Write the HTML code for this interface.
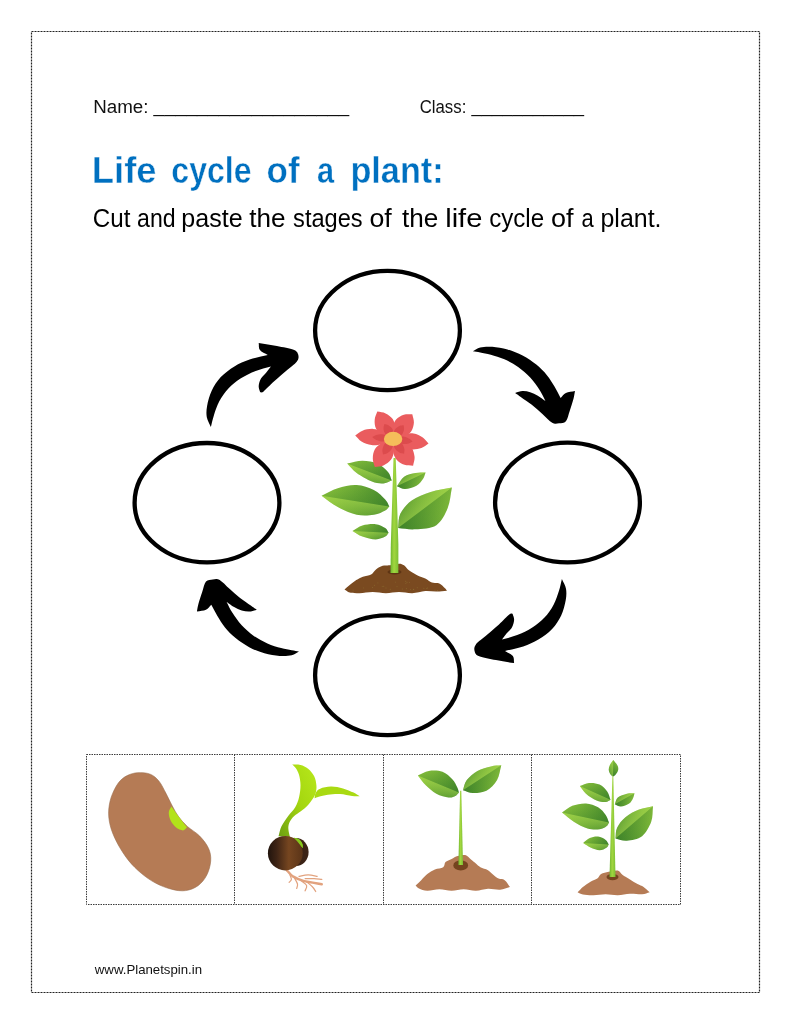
<!DOCTYPE html>
<html lang="en">
<head>
<meta charset="utf-8">
<title>Life cycle of a plant</title>
<style>
html,body{margin:0;padding:0;background:#fff;}
body{width:791px;height:1024px;overflow:hidden;position:relative;}
svg{position:absolute;left:0;top:0;display:block;will-change:transform;}
.cal{font-family:"Liberation Sans",sans-serif;fill:#111;}
.ttl,.sub{font-family:"Liberation Sans",sans-serif;}
.ttl{stroke:#fff;stroke-width:0.4px;paint-order:fill stroke;}
</style>
</head>
<body>
<svg width="791" height="1024" viewBox="0 0 791 1024">
<rect x="0" y="0" width="791" height="1024" fill="#fff"/>
<!-- page border -->
<rect x="31.5" y="31.5" width="728" height="961" fill="none" stroke="#222" stroke-width="1.2" stroke-dasharray="2 1"/>

<!-- header text -->
<text class="cal" x="93.2" y="112.7" font-size="18.7" textLength="55.3" lengthAdjust="spacingAndGlyphs">Name:</text>
<text class="cal" x="153.6" y="112.2" font-size="18.7" textLength="195.5" lengthAdjust="spacingAndGlyphs">__________________</text>
<text class="cal" x="419.7" y="112.7" font-size="18.7" textLength="46.6" lengthAdjust="spacingAndGlyphs">Class:</text>
<text class="cal" x="471.6" y="112.2" font-size="18.7" textLength="112.5" lengthAdjust="spacingAndGlyphs">___________</text>

<text class="ttl" y="183.1" font-size="36.3" font-weight="bold" fill="#0070c0"><tspan x="91.8" textLength="64.7" lengthAdjust="spacingAndGlyphs">Life</tspan> <tspan x="171.3" textLength="80.3" lengthAdjust="spacingAndGlyphs">cycle</tspan> <tspan x="266.6" textLength="33.0" lengthAdjust="spacingAndGlyphs">of</tspan> <tspan x="316.9" textLength="17.1" lengthAdjust="spacingAndGlyphs">a</tspan> <tspan x="350.4" textLength="93.3" lengthAdjust="spacingAndGlyphs">plant:</tspan></text>
<text class="sub" y="226.8" font-size="25" fill="#000"><tspan x="92.8" textLength="37.6" lengthAdjust="spacingAndGlyphs">Cut</tspan> <tspan x="137.1" textLength="38.5" lengthAdjust="spacingAndGlyphs">and</tspan> <tspan x="181.3" textLength="61.3" lengthAdjust="spacingAndGlyphs">paste</tspan> <tspan x="249.3" textLength="36.3" lengthAdjust="spacingAndGlyphs">the</tspan> <tspan x="293.1" textLength="69.6" lengthAdjust="spacingAndGlyphs">stages</tspan> <tspan x="369.4" textLength="22.3" lengthAdjust="spacingAndGlyphs">of</tspan> <tspan x="401.9" textLength="36.3" lengthAdjust="spacingAndGlyphs">the</tspan> <tspan x="445.2" textLength="37.2" lengthAdjust="spacingAndGlyphs">life</tspan> <tspan x="489.2" textLength="54.9" lengthAdjust="spacingAndGlyphs">cycle</tspan> <tspan x="551.1" textLength="22.5" lengthAdjust="spacingAndGlyphs">of</tspan> <tspan x="581.6" textLength="12.2" lengthAdjust="spacingAndGlyphs">a</tspan> <tspan x="600.5" textLength="61.0" lengthAdjust="spacingAndGlyphs">plant.</tspan></text>

<!-- ellipses -->
<g fill="none" stroke="#000" stroke-width="4.3">
<ellipse cx="387.5" cy="330.5" rx="72.4" ry="59.6"/>
<ellipse cx="207" cy="502.7" rx="72.4" ry="59.7"/>
<ellipse cx="567.5" cy="502.5" rx="72.4" ry="59.9"/>
<ellipse cx="387.5" cy="675.2" rx="72.4" ry="59.9"/>
</g>

<!-- ARROWS -->
<!--A0--><g fill="#000">
<path d="M210.9 427.1C209.6 423.8 207.5 420.8 206.8 417.2C206.2 413.7 206.3 410.3 207.1 405.9C207.9 401.4 209.4 395.5 211.7 390.7C214.0 385.9 217.0 381.1 220.8 377.0C224.6 373.0 229.6 369.3 234.4 366.4C239.2 363.5 244.1 361.5 249.6 359.6C255.2 357.7 261.8 356.5 267.8 355.0C265.2 353.4 261.4 352.0 259.9 350.0C258.4 348.0 259.1 345.3 258.7 342.9C264.8 343.9 271.1 344.8 276.9 345.9C282.7 347.1 290.1 348.3 293.6 349.7C297.1 351.2 297.6 352.6 298.2 354.6C298.7 356.5 299.0 358.8 296.9 361.6C294.9 364.3 289.9 367.6 286.0 371.0C282.2 374.3 277.6 378.2 273.9 381.6C270.1 385.0 265.8 389.7 263.6 391.4C261.3 393.2 261.3 391.9 260.2 392.2C259.7 390.2 258.6 388.4 258.7 386.1C258.8 383.9 259.7 380.8 261.0 378.5C262.3 376.3 264.7 374.5 266.3 372.5C267.9 370.5 269.3 368.4 270.9 366.4C265.8 367.9 260.7 368.9 255.7 371.0C250.6 373.0 245.1 375.6 240.5 378.5C236.0 381.5 231.9 384.6 228.4 388.4C224.8 392.2 221.7 396.9 219.3 401.3C216.9 405.7 215.4 410.7 214.0 415.0C212.6 419.3 211.9 423.0 210.9 427.1Z"/>
<path d="M472.9 351.2C475.3 350.0 476.9 348.2 480.2 347.4C483.4 346.7 487.8 346.5 492.3 346.8C496.9 347.2 502.4 348.0 507.5 349.4C512.5 350.9 517.8 353.0 522.6 355.5C527.5 358.0 532.3 361.3 536.3 364.6C540.3 367.9 543.9 371.5 546.9 375.2C550.0 378.9 552.2 382.8 554.5 386.6C556.8 390.4 558.6 394.2 560.6 398.0C562.3 396.3 563.5 394.1 565.9 393.0C568.3 391.8 572.0 391.7 575.0 391.1C574.5 393.7 574.4 395.4 573.5 398.7C572.6 402.0 570.9 407.1 569.7 410.9C568.4 414.6 567.7 419.1 565.9 421.2C564.1 423.2 561.3 423.0 559.1 423.3C556.8 423.5 555.0 424.3 552.2 422.7C549.5 421.1 545.8 416.9 542.4 413.9C539.0 410.9 535.3 407.6 531.8 404.8C528.2 402.0 523.9 399.2 521.1 397.2C518.4 395.2 517.1 394.4 515.1 393.0C517.6 392.3 520.1 391.2 522.6 391.1C525.2 391.0 527.7 391.6 530.2 392.3C532.8 393.1 535.3 394.2 537.8 395.7C540.3 397.1 542.9 399.2 545.4 401.0C543.4 397.2 541.9 393.5 539.3 389.6C536.8 385.7 533.8 381.3 530.2 377.5C526.7 373.7 522.4 369.9 518.1 366.9C513.8 363.8 509.0 361.3 504.4 359.3C499.9 357.3 494.8 355.9 490.8 354.7C486.7 353.6 483.2 353.0 480.2 352.4C477.2 351.9 475.3 351.6 472.9 351.2Z"/>
<path d="M561.9 579.0C563.3 582.2 565.4 585.3 566.0 588.8C566.6 592.4 566.5 595.8 565.7 600.2C564.9 604.6 563.4 610.6 561.2 615.4C558.9 620.2 555.8 625.0 552.1 629.0C548.3 633.1 543.2 636.7 538.4 639.6C533.6 642.5 528.8 644.6 523.2 646.5C517.7 648.4 511.1 649.5 505.0 651.0C507.7 652.7 511.4 654.0 512.9 656.0C514.4 658.0 513.7 660.8 514.1 663.1C508.1 662.1 501.7 661.3 495.9 660.1C490.1 659.0 482.8 657.8 479.2 656.3C475.7 654.9 475.2 653.4 474.7 651.5C474.1 649.5 473.9 647.2 475.9 644.5C477.9 641.8 483.0 638.4 486.8 635.1C490.7 631.7 495.2 627.9 499.0 624.5C502.7 621.0 507.0 616.4 509.3 614.6C511.6 612.8 511.5 614.1 512.6 613.8C513.1 615.9 514.3 617.6 514.1 619.9C514.0 622.2 513.1 625.2 511.9 627.5C510.6 629.8 508.2 631.5 506.5 633.6C504.9 635.6 503.5 637.6 502.0 639.6C507.1 638.1 512.1 637.1 517.2 635.1C522.2 633.1 527.8 630.4 532.3 627.5C536.9 624.6 540.9 621.4 544.5 617.6C548.0 613.8 551.2 609.2 553.6 604.7C556.0 600.3 557.5 595.4 558.9 591.1C560.3 586.8 560.9 583.0 561.9 579.0Z"/>
<path d="M299.0 651.5C296.6 652.7 295.0 654.5 291.7 655.3C288.5 656.0 284.1 656.2 279.6 655.9C275.0 655.6 269.5 654.7 264.4 653.3C259.4 651.9 254.0 649.8 249.2 647.2C244.4 644.7 239.6 641.4 235.6 638.1C231.5 634.8 228.0 631.2 225.0 627.5C221.9 623.8 219.7 619.9 217.4 616.1C215.1 612.3 213.3 608.5 211.3 604.8C209.5 606.4 208.4 608.6 206.0 609.8C203.6 610.9 199.9 611.0 196.9 611.6C197.4 609.1 197.5 607.3 198.4 604.0C199.3 600.7 200.9 595.6 202.2 591.9C203.5 588.1 204.2 583.6 206.0 581.5C207.8 579.5 210.6 579.7 212.8 579.4C215.1 579.2 216.9 578.5 219.7 580.0C222.4 581.6 226.1 585.8 229.5 588.8C232.9 591.8 236.6 595.1 240.1 597.9C243.7 600.7 248.0 603.5 250.8 605.5C253.5 607.5 254.8 608.3 256.8 609.8C254.3 610.4 251.8 611.5 249.2 611.6C246.7 611.7 244.2 611.1 241.7 610.4C239.1 609.6 236.6 608.5 234.1 607.0C231.5 605.6 229.0 603.5 226.5 601.7C228.5 605.5 230.0 609.2 232.6 613.1C235.1 617.0 238.1 621.4 241.7 625.2C245.2 629.0 249.5 632.8 253.8 635.9C258.1 638.9 262.9 641.4 267.4 643.4C272.0 645.5 277.1 646.9 281.1 648.0C285.1 649.1 288.7 649.7 291.7 650.3C294.7 650.8 296.6 651.1 299.0 651.5Z"/>
</g><!--A1-->
<!-- CENTER-FLOWER -->
<!--F0--><defs>
<linearGradient id="lgA" x1="0" y1="0" x2="1" y2="1"><stop offset="0" stop-color="#8cc63f"/><stop offset="1" stop-color="#3f8f2c"/></linearGradient>
<linearGradient id="lgB" x1="1" y1="0" x2="0" y2="1"><stop offset="0" stop-color="#9bcf3f"/><stop offset="1" stop-color="#3f8f2c"/></linearGradient>
<linearGradient id="lgC" x1="0" y1="0" x2="0.6" y2="1"><stop offset="0" stop-color="#8cc63f"/><stop offset="1" stop-color="#3f8f2c"/></linearGradient>
<linearGradient id="lgS" x1="0" y1="0" x2="1" y2="0"><stop offset="0" stop-color="#6db52f"/><stop offset="0.45" stop-color="#a2d63f"/><stop offset="1" stop-color="#7cc034"/></linearGradient>
<linearGradient id="fl1a" gradientUnits="userSpaceOnUse" x1="391.8" y1="480.6" x2="347.2" y2="463.5"><stop offset="0" stop-color="#43882b"/><stop offset="1" stop-color="#93ca3e"/></linearGradient><linearGradient id="fl1b" gradientUnits="userSpaceOnUse" x1="369.5" y1="472.1" x2="365.6" y2="482.2"><stop offset="0" stop-color="#a8d84e" stop-opacity="0.55"/><stop offset="1" stop-color="#a8d84e" stop-opacity="0"/></linearGradient><linearGradient id="fl1c" gradientUnits="userSpaceOnUse" x1="369.5" y1="472.1" x2="373.4" y2="461.9"><stop offset="0" stop-color="#2f7426" stop-opacity="0.25"/><stop offset="1" stop-color="#2f7426" stop-opacity="0"/></linearGradient><linearGradient id="fl2a" gradientUnits="userSpaceOnUse" x1="396.9" y1="486.3" x2="425.6" y2="472.4"><stop offset="0" stop-color="#43882b"/><stop offset="1" stop-color="#93ca3e"/></linearGradient><linearGradient id="fl2b" gradientUnits="userSpaceOnUse" x1="411.2" y1="479.4" x2="407.8" y2="472.2"><stop offset="0" stop-color="#a8d84e" stop-opacity="0.55"/><stop offset="1" stop-color="#a8d84e" stop-opacity="0"/></linearGradient><linearGradient id="fl2c" gradientUnits="userSpaceOnUse" x1="411.2" y1="479.4" x2="414.7" y2="486.6"><stop offset="0" stop-color="#2f7426" stop-opacity="0.25"/><stop offset="1" stop-color="#2f7426" stop-opacity="0"/></linearGradient><linearGradient id="fl3a" gradientUnits="userSpaceOnUse" x1="389.3" y1="506.6" x2="321.6" y2="495.8"><stop offset="0" stop-color="#43882b"/><stop offset="1" stop-color="#93ca3e"/></linearGradient><linearGradient id="fl3b" gradientUnits="userSpaceOnUse" x1="355.5" y1="501.2" x2="352.9" y2="517.2"><stop offset="0" stop-color="#a8d84e" stop-opacity="0.55"/><stop offset="1" stop-color="#a8d84e" stop-opacity="0"/></linearGradient><linearGradient id="fl3c" gradientUnits="userSpaceOnUse" x1="355.5" y1="501.2" x2="358.0" y2="485.2"><stop offset="0" stop-color="#2f7426" stop-opacity="0.25"/><stop offset="1" stop-color="#2f7426" stop-opacity="0"/></linearGradient><linearGradient id="fl4a" gradientUnits="userSpaceOnUse" x1="398.1" y1="528.0" x2="451.9" y2="487.6"><stop offset="0" stop-color="#43882b"/><stop offset="1" stop-color="#93ca3e"/></linearGradient><linearGradient id="fl4b" gradientUnits="userSpaceOnUse" x1="425.0" y1="507.8" x2="412.6" y2="491.2"><stop offset="0" stop-color="#a8d84e" stop-opacity="0.55"/><stop offset="1" stop-color="#a8d84e" stop-opacity="0"/></linearGradient><linearGradient id="fl4c" gradientUnits="userSpaceOnUse" x1="425.0" y1="507.8" x2="437.4" y2="524.4"><stop offset="0" stop-color="#2f7426" stop-opacity="0.25"/><stop offset="1" stop-color="#2f7426" stop-opacity="0"/></linearGradient><linearGradient id="fl5a" gradientUnits="userSpaceOnUse" x1="388.6" y1="532.7" x2="352.5" y2="530.9"><stop offset="0" stop-color="#43882b"/><stop offset="1" stop-color="#93ca3e"/></linearGradient><linearGradient id="fl5b" gradientUnits="userSpaceOnUse" x1="370.6" y1="531.8" x2="370.2" y2="539.6"><stop offset="0" stop-color="#a8d84e" stop-opacity="0.55"/><stop offset="1" stop-color="#a8d84e" stop-opacity="0"/></linearGradient><linearGradient id="fl5c" gradientUnits="userSpaceOnUse" x1="370.6" y1="531.8" x2="371.0" y2="524.0"><stop offset="0" stop-color="#2f7426" stop-opacity="0.25"/><stop offset="1" stop-color="#2f7426" stop-opacity="0"/></linearGradient></defs>
<g>
<path d="M344.5 589.5C346.2 588.0 347.7 586.6 349.7 585.1C351.7 583.5 354.1 581.5 356.3 580.1C358.5 578.8 360.4 577.8 362.9 576.8C365.3 575.9 368.9 575.6 371.1 574.4C373.3 573.1 374.1 570.9 376.0 569.4C377.9 568.0 380.3 566.5 382.6 565.8C384.9 565.1 387.2 565.7 390.0 565.3C392.7 565.0 396.7 563.7 399.0 563.7C401.4 563.7 402.3 564.2 404.0 565.3C405.6 566.4 406.7 568.6 408.9 570.3C411.1 571.9 414.4 573.8 417.1 575.2C419.8 576.6 422.9 577.3 425.3 578.5C427.8 579.7 429.6 581.8 431.9 582.6C434.2 583.4 437.1 582.5 439.3 583.4C441.5 584.4 443.8 587.1 445.0 588.3C446.3 589.6 446.4 590.0 447.0 590.8C443.6 591.1 440.4 591.6 436.8 591.6C433.2 591.7 429.4 590.9 425.3 591.1C421.2 591.4 416.6 593.1 412.2 593.3C407.8 593.4 403.4 592.1 399.0 592.1C394.6 592.1 390.3 593.3 385.9 593.3C381.5 593.3 377.1 592.1 372.7 592.1C368.3 592.1 363.4 593.2 359.6 593.3C355.7 593.3 352.2 593.1 349.7 592.5C347.2 591.8 346.2 590.5 344.5 589.5Z" fill="#7a4a20"/>
<ellipse cx="394.5" cy="572" rx="7" ry="2.6" fill="#5e3514"/>
<path d="M393.5 458 L395.7 458 L398.4 545 L398.4 573 L390.5 573 L390.8 545 Z" fill="url(#lgS)"/>
<g fill="#9a8a3c" opacity="0.7"><!--specks--><circle cx="372.5" cy="587.5" r="0.45"/><circle cx="383.8" cy="586.3" r="0.45"/><circle cx="405.8" cy="581.2" r="0.45"/><circle cx="353.1" cy="590.1" r="0.45"/><circle cx="374.3" cy="585.3" r="0.45"/><circle cx="437.6" cy="590.6" r="0.45"/><circle cx="423.9" cy="588.2" r="0.45"/><circle cx="407.0" cy="582.3" r="0.45"/><circle cx="406.6" cy="588.8" r="0.45"/><circle cx="397.0" cy="586.8" r="0.45"/><circle cx="409.7" cy="582.4" r="0.45"/><circle cx="417.2" cy="587.7" r="0.45"/><circle cx="377.9" cy="582.9" r="0.45"/><circle cx="426.4" cy="588.6" r="0.45"/><circle cx="413.8" cy="589.2" r="0.45"/><circle cx="413.4" cy="589.5" r="0.45"/><circle cx="386.0" cy="588.0" r="0.45"/><circle cx="390.2" cy="589.3" r="0.45"/><circle cx="427.6" cy="588.0" r="0.45"/><circle cx="363.7" cy="587.9" r="0.45"/><circle cx="435.0" cy="590.1" r="0.45"/><circle cx="405.9" cy="583.4" r="0.45"/><circle cx="395.6" cy="582.1" r="0.45"/><circle cx="382.2" cy="586.4" r="0.45"/><circle cx="402.2" cy="589.0" r="0.45"/><circle cx="410.7" cy="589.4" r="0.45"/></g>
<path d="M347.2 463.5C352.3 462.6 357.4 460.7 362.4 460.7C367.5 460.7 373.3 461.6 377.6 463.5C381.8 465.4 385.6 469.2 388.0 472.1C390.4 474.9 390.5 477.8 391.8 480.6C389.0 481.5 386.6 483.3 383.3 483.4C379.9 483.6 376.3 483.3 371.9 481.5C367.5 479.8 360.8 476.0 356.7 473.0C352.6 470.0 350.4 466.7 347.2 463.5Z" fill="url(#fl1a)"/><path d="M391.8 480.6C389.0 481.5 386.6 483.3 383.3 483.4C379.9 483.6 376.3 483.3 371.9 481.5C367.5 479.8 360.8 476.0 356.7 473.0C352.6 470.0 350.4 466.7 347.2 463.5Z" fill="url(#fl1b)"/><path d="M347.2 463.5C352.3 462.6 357.4 460.7 362.4 460.7C367.5 460.7 373.3 461.6 377.6 463.5C381.8 465.4 385.6 469.2 388.0 472.1C390.4 474.9 390.5 477.8 391.8 480.6Z" fill="url(#fl1c)"/>
<path d="M396.9 486.3C399.3 483.1 401.0 479.0 404.1 476.8C407.2 474.6 411.9 473.7 415.5 473.0C419.1 472.3 422.2 472.6 425.6 472.4C424.7 474.5 424.6 476.5 423.1 478.7C421.6 480.9 419.5 484.0 416.5 485.7C413.5 487.5 408.3 489.0 405.1 489.1C401.8 489.2 399.6 487.2 396.9 486.3Z" fill="url(#fl2a)"/><path d="M396.9 486.3C399.3 483.1 401.0 479.0 404.1 476.8C407.2 474.6 411.9 473.7 415.5 473.0C419.1 472.3 422.2 472.6 425.6 472.4Z" fill="url(#fl2b)"/><path d="M425.6 472.4C424.7 474.5 424.6 476.5 423.1 478.7C421.6 480.9 419.5 484.0 416.5 485.7C413.5 487.5 408.3 489.0 405.1 489.1C401.8 489.2 399.6 487.2 396.9 486.3Z" fill="url(#fl2c)"/>
<path d="M321.6 495.8C327.0 493.2 331.9 490.0 337.8 488.2C343.6 486.4 350.7 484.6 356.7 485.0C362.7 485.3 369.0 487.6 373.8 490.1C378.5 492.5 382.6 496.8 385.2 499.6C387.8 502.3 387.9 504.2 389.3 506.6C387.9 507.8 387.8 509.0 385.2 510.4C382.6 511.7 378.5 514.0 373.8 514.7C369.0 515.5 362.7 516.0 356.7 514.7C350.7 513.5 343.6 510.3 337.8 507.1C331.9 504.0 327.0 499.6 321.6 495.8Z" fill="url(#fl3a)"/><path d="M389.3 506.6C387.9 507.8 387.8 509.0 385.2 510.4C382.6 511.7 378.5 514.0 373.8 514.7C369.0 515.5 362.7 516.0 356.7 514.7C350.7 513.5 343.6 510.3 337.8 507.1C331.9 504.0 327.0 499.6 321.6 495.8Z" fill="url(#fl3b)"/><path d="M321.6 495.8C327.0 493.2 331.9 490.0 337.8 488.2C343.6 486.4 350.7 484.6 356.7 485.0C362.7 485.3 369.0 487.6 373.8 490.1C378.5 492.5 382.6 496.8 385.2 499.6C387.8 502.3 387.9 504.2 389.3 506.6Z" fill="url(#fl3c)"/>
<path d="M398.1 528.0C398.8 523.3 398.1 518.4 400.3 513.8C402.6 509.2 406.7 504.1 411.7 500.5C416.8 496.9 424.0 494.1 430.7 492.0C437.4 489.8 444.8 489.1 451.9 487.6C450.5 494.4 450.3 501.8 447.7 508.1C445.2 514.4 441.7 521.6 436.4 525.2C431.0 528.7 421.9 528.9 415.5 529.3C409.1 529.8 403.9 528.5 398.1 528.0Z" fill="url(#fl4a)"/><path d="M398.1 528.0C398.8 523.3 398.1 518.4 400.3 513.8C402.6 509.2 406.7 504.1 411.7 500.5C416.8 496.9 424.0 494.1 430.7 492.0C437.4 489.8 444.8 489.1 451.9 487.6Z" fill="url(#fl4b)"/><path d="M451.9 487.6C450.5 494.4 450.3 501.8 447.7 508.1C445.2 514.4 441.7 521.6 436.4 525.2C431.0 528.7 421.9 528.9 415.5 529.3C409.1 529.8 403.9 528.5 398.1 528.0Z" fill="url(#fl4c)"/>
<path d="M352.5 530.9C355.8 529.1 358.6 526.6 362.4 525.5C366.3 524.4 371.9 523.8 375.7 524.2C379.5 524.6 383.0 526.6 385.2 528.0C387.3 529.4 387.4 531.2 388.6 532.7C387.4 534.0 387.3 535.4 385.2 536.5C383.0 537.6 379.5 539.4 375.7 539.4C371.9 539.4 366.3 538.0 362.4 536.5C358.6 535.1 355.8 532.7 352.5 530.9Z" fill="url(#fl5a)"/><path d="M388.6 532.7C387.4 534.0 387.3 535.4 385.2 536.5C383.0 537.6 379.5 539.4 375.7 539.4C371.9 539.4 366.3 538.0 362.4 536.5C358.6 535.1 355.8 532.7 352.5 530.9Z" fill="url(#fl5b)"/><path d="M352.5 530.9C355.8 529.1 358.6 526.6 362.4 525.5C366.3 524.4 371.9 523.8 375.7 524.2C379.5 524.6 383.0 526.6 385.2 528.0C387.3 529.4 387.4 531.2 388.6 532.7Z" fill="url(#fl5c)"/>
<path d="M392.3 437.6C393.1 434.3 394.8 430.8 394.8 427.7C394.9 424.7 394.3 421.5 392.7 419.1C391.2 416.7 388.2 414.6 385.6 413.4C383.1 412.1 380.1 412.2 377.3 411.6C376.4 414.3 374.9 416.9 374.7 419.7C374.4 422.6 374.8 426.2 376.1 428.7C377.4 431.3 379.8 433.4 382.5 434.9C385.2 436.3 389.0 436.7 392.3 437.6Z" fill="#ea5c5e"/>
<path d="M394.1 437.7C397.4 437.3 401.2 437.4 404.1 436.4C407.0 435.3 409.6 433.5 411.3 431.2C412.9 428.9 413.7 425.3 413.9 422.5C414.0 419.7 412.8 416.9 412.3 414.2C409.5 414.4 406.6 413.9 403.8 414.7C401.1 415.6 397.9 417.3 396.1 419.4C394.2 421.6 393.2 424.6 392.9 427.6C392.5 430.7 393.7 434.3 394.1 437.7Z" fill="#ea5c5e"/>
<path d="M394.9 439.2C397.3 441.5 399.5 444.5 402.2 446.2C405.0 447.9 408.3 449.2 411.5 449.5C414.7 449.8 418.6 449.1 421.4 448.1C424.3 447.1 426.1 445.1 428.5 443.6C426.6 441.6 425.3 439.2 422.8 437.5C420.3 435.8 416.8 434.0 413.6 433.5C410.5 433.0 406.9 433.4 403.8 434.3C400.7 435.3 397.8 437.6 394.9 439.2Z" fill="#ea5c5e"/>
<path d="M394.1 440.3C393.7 443.7 392.6 447.5 393.0 450.7C393.4 453.9 394.5 457.1 396.4 459.4C398.3 461.8 401.6 463.7 404.4 464.7C407.2 465.8 410.2 465.4 413.1 465.7C413.6 462.9 414.8 460.1 414.6 457.1C414.3 454.2 413.5 450.4 411.8 447.9C410.1 445.4 407.3 443.5 404.4 442.2C401.4 440.9 397.5 440.9 394.1 440.3Z" fill="#ea5c5e"/>
<path d="M392.2 440.3C388.8 441.2 384.9 441.4 382.0 442.9C379.1 444.4 376.5 446.5 375.0 449.1C373.4 451.7 372.8 455.5 372.8 458.5C372.7 461.5 374.1 464.2 374.8 467.0C377.6 466.5 380.7 466.6 383.4 465.4C386.1 464.2 389.3 462.1 391.1 459.6C392.8 457.2 393.7 453.9 393.9 450.7C394.1 447.5 392.8 443.8 392.2 440.3Z" fill="#ea5c5e"/>
<path d="M391.2 438.8C388.5 436.5 386.1 433.6 383.0 432.0C380.0 430.3 376.4 429.1 373.0 428.9C369.6 428.7 365.5 429.6 362.5 430.7C359.5 431.8 357.6 433.8 355.2 435.4C357.3 437.4 358.8 439.7 361.5 441.4C364.2 443.0 368.1 444.6 371.5 445.0C374.9 445.5 378.6 445.0 381.9 443.9C385.2 442.9 388.1 440.5 391.2 438.8Z" fill="#ea5c5e"/>
<path d="M392.7 438.2C392.9 436.5 393.5 434.7 393.4 433.1C393.3 431.5 392.9 429.8 392.1 428.5C391.2 427.2 389.7 426.0 388.4 425.2C387.2 424.4 385.8 424.3 384.4 423.9C384.1 425.3 383.5 426.6 383.5 428.1C383.5 429.5 383.8 431.5 384.6 432.8C385.3 434.2 386.5 435.4 387.9 436.3C389.2 437.2 391.1 437.6 392.7 438.2Z" fill="#dc4b4d"/>
<path d="M393.6 438.3C395.3 437.9 397.1 437.8 398.6 437.1C400.0 436.4 401.4 435.4 402.3 434.1C403.2 432.8 403.8 431.0 404.0 429.5C404.2 428.0 403.8 426.7 403.7 425.3C402.3 425.5 400.9 425.4 399.5 426.0C398.1 426.6 396.5 427.6 395.5 428.8C394.5 430.0 393.8 431.6 393.5 433.2C393.2 434.7 393.6 436.6 393.6 438.3Z" fill="#dc4b4d"/>
<path d="M394.1 439.1C395.4 440.2 396.7 441.5 398.2 442.3C399.7 443.1 401.6 443.8 403.3 444.0C405.1 444.1 407.2 443.8 408.7 443.4C410.3 443.0 411.3 442.2 412.6 441.5C411.5 440.6 410.8 439.5 409.4 438.7C408.0 437.9 406.0 437.0 404.3 436.7C402.5 436.5 400.6 436.6 398.9 437.0C397.2 437.4 395.7 438.4 394.1 439.1Z" fill="#dc4b4d"/>
<path d="M393.6 439.7C393.6 441.4 393.3 443.3 393.6 445.0C393.9 446.6 394.6 448.3 395.7 449.6C396.7 450.9 398.4 452.1 399.8 452.7C401.2 453.4 402.7 453.4 404.1 453.7C404.2 452.2 404.6 450.9 404.4 449.3C404.1 447.8 403.5 445.8 402.6 444.5C401.7 443.1 400.2 442.0 398.7 441.2C397.2 440.4 395.3 440.2 393.6 439.7Z" fill="#dc4b4d"/>
<path d="M392.6 439.7C390.9 440.3 389.0 440.6 387.6 441.5C386.2 442.4 384.8 443.6 383.9 445.1C383.1 446.5 382.6 448.5 382.4 450.0C382.3 451.6 382.8 452.9 383.0 454.4C384.4 454.0 385.9 453.9 387.2 453.2C388.6 452.4 390.2 451.2 391.2 449.8C392.1 448.4 392.7 446.7 393.0 445.0C393.2 443.3 392.7 441.5 392.6 439.7Z" fill="#dc4b4d"/>
<path d="M392.1 438.8C390.5 437.8 389.2 436.5 387.5 435.7C385.8 434.9 383.8 434.4 382.0 434.2C380.1 434.1 377.8 434.5 376.2 434.9C374.6 435.4 373.6 436.3 372.2 437.0C373.4 437.9 374.3 439.0 375.8 439.7C377.3 440.5 379.4 441.3 381.3 441.5C383.2 441.7 385.2 441.5 387.0 441.1C388.8 440.6 390.4 439.6 392.1 438.8Z" fill="#dc4b4d"/>
<ellipse cx="393.1" cy="438.9" rx="9.2" ry="7.1" fill="#f5bd5a"/>
</g><!--F1-->
<!-- table -->
<g fill="none" stroke="#3c3c3c" stroke-width="1" stroke-dasharray="1.5 1">
<rect x="86.5" y="754.5" width="594" height="150"/>
<line x1="234.5" y1="754.5" x2="234.5" y2="904.5"/>
<line x1="383.5" y1="754.5" x2="383.5" y2="904.5"/>
<line x1="531.5" y1="754.5" x2="531.5" y2="904.5"/>
</g>
<!-- CARDS -->
<!--C0--><defs>
<linearGradient id="sdG" x1="0" y1="0" x2="1" y2="0"><stop offset="0" stop-color="#21140d"/><stop offset="0.25" stop-color="#3e2415"/><stop offset="0.6" stop-color="#764620"/><stop offset="1" stop-color="#5a3418"/></linearGradient>
<linearGradient id="spG" x1="0" y1="1" x2="1" y2="0"><stop offset="0" stop-color="#6c9f12"/><stop offset="0.5" stop-color="#a4d60f"/><stop offset="1" stop-color="#b8e81c"/></linearGradient>
<linearGradient id="c31a" gradientUnits="userSpaceOnUse" x1="458.9" y1="792.6" x2="417.9" y2="775.5"><stop offset="0" stop-color="#43882b"/><stop offset="1" stop-color="#93ca3e"/></linearGradient><linearGradient id="c31b" gradientUnits="userSpaceOnUse" x1="438.4" y1="784.1" x2="433.4" y2="796.0"><stop offset="0" stop-color="#a8d84e" stop-opacity="0.55"/><stop offset="1" stop-color="#a8d84e" stop-opacity="0"/></linearGradient><linearGradient id="c31c" gradientUnits="userSpaceOnUse" x1="438.4" y1="784.1" x2="443.4" y2="772.1"><stop offset="0" stop-color="#2f7426" stop-opacity="0.25"/><stop offset="1" stop-color="#2f7426" stop-opacity="0"/></linearGradient><linearGradient id="c32a" gradientUnits="userSpaceOnUse" x1="463.0" y1="790.2" x2="501.3" y2="765.3"><stop offset="0" stop-color="#43882b"/><stop offset="1" stop-color="#93ca3e"/></linearGradient><linearGradient id="c32b" gradientUnits="userSpaceOnUse" x1="482.1" y1="777.8" x2="475.0" y2="766.7"><stop offset="0" stop-color="#a8d84e" stop-opacity="0.55"/><stop offset="1" stop-color="#a8d84e" stop-opacity="0"/></linearGradient><linearGradient id="c32c" gradientUnits="userSpaceOnUse" x1="482.1" y1="777.8" x2="489.3" y2="788.8"><stop offset="0" stop-color="#2f7426" stop-opacity="0.25"/><stop offset="1" stop-color="#2f7426" stop-opacity="0"/></linearGradient><linearGradient id="c43a" gradientUnits="userSpaceOnUse" x1="613.0" y1="776.5" x2="613.3" y2="759.9"><stop offset="0" stop-color="#43882b"/><stop offset="1" stop-color="#93ca3e"/></linearGradient><linearGradient id="c43b" gradientUnits="userSpaceOnUse" x1="613.1" y1="768.2" x2="608.1" y2="768.1"><stop offset="0" stop-color="#a8d84e" stop-opacity="0.55"/><stop offset="1" stop-color="#a8d84e" stop-opacity="0"/></linearGradient><linearGradient id="c43c" gradientUnits="userSpaceOnUse" x1="613.1" y1="768.2" x2="618.2" y2="768.3"><stop offset="0" stop-color="#2f7426" stop-opacity="0.25"/><stop offset="1" stop-color="#2f7426" stop-opacity="0"/></linearGradient><linearGradient id="c44a" gradientUnits="userSpaceOnUse" x1="610.5" y1="799.8" x2="579.9" y2="786.1"><stop offset="0" stop-color="#43882b"/><stop offset="1" stop-color="#93ca3e"/></linearGradient><linearGradient id="c44b" gradientUnits="userSpaceOnUse" x1="595.2" y1="792.9" x2="591.4" y2="801.5"><stop offset="0" stop-color="#a8d84e" stop-opacity="0.55"/><stop offset="1" stop-color="#a8d84e" stop-opacity="0"/></linearGradient><linearGradient id="c44c" gradientUnits="userSpaceOnUse" x1="595.2" y1="792.9" x2="599.0" y2="784.3"><stop offset="0" stop-color="#2f7426" stop-opacity="0.25"/><stop offset="1" stop-color="#2f7426" stop-opacity="0"/></linearGradient><linearGradient id="c45a" gradientUnits="userSpaceOnUse" x1="614.8" y1="804.3" x2="634.5" y2="793.2"><stop offset="0" stop-color="#43882b"/><stop offset="1" stop-color="#93ca3e"/></linearGradient><linearGradient id="c45b" gradientUnits="userSpaceOnUse" x1="624.6" y1="798.8" x2="621.5" y2="793.2"><stop offset="0" stop-color="#a8d84e" stop-opacity="0.55"/><stop offset="1" stop-color="#a8d84e" stop-opacity="0"/></linearGradient><linearGradient id="c45c" gradientUnits="userSpaceOnUse" x1="624.6" y1="798.8" x2="627.8" y2="804.3"><stop offset="0" stop-color="#2f7426" stop-opacity="0.25"/><stop offset="1" stop-color="#2f7426" stop-opacity="0"/></linearGradient><linearGradient id="c46a" gradientUnits="userSpaceOnUse" x1="609.0" y1="822.5" x2="562.0" y2="812.6"><stop offset="0" stop-color="#43882b"/><stop offset="1" stop-color="#93ca3e"/></linearGradient><linearGradient id="c46b" gradientUnits="userSpaceOnUse" x1="585.5" y1="817.6" x2="582.7" y2="831.1"><stop offset="0" stop-color="#a8d84e" stop-opacity="0.55"/><stop offset="1" stop-color="#a8d84e" stop-opacity="0"/></linearGradient><linearGradient id="c46c" gradientUnits="userSpaceOnUse" x1="585.5" y1="817.6" x2="588.3" y2="804.0"><stop offset="0" stop-color="#2f7426" stop-opacity="0.25"/><stop offset="1" stop-color="#2f7426" stop-opacity="0"/></linearGradient><linearGradient id="c47a" gradientUnits="userSpaceOnUse" x1="615.5" y1="838.4" x2="653.0" y2="806.3"><stop offset="0" stop-color="#43882b"/><stop offset="1" stop-color="#93ca3e"/></linearGradient><linearGradient id="c47b" gradientUnits="userSpaceOnUse" x1="634.3" y1="822.4" x2="624.1" y2="810.5"><stop offset="0" stop-color="#a8d84e" stop-opacity="0.55"/><stop offset="1" stop-color="#a8d84e" stop-opacity="0"/></linearGradient><linearGradient id="c47c" gradientUnits="userSpaceOnUse" x1="634.3" y1="822.4" x2="644.4" y2="834.2"><stop offset="0" stop-color="#2f7426" stop-opacity="0.25"/><stop offset="1" stop-color="#2f7426" stop-opacity="0"/></linearGradient><linearGradient id="c48a" gradientUnits="userSpaceOnUse" x1="608.7" y1="844.5" x2="583.2" y2="843.0"><stop offset="0" stop-color="#43882b"/><stop offset="1" stop-color="#93ca3e"/></linearGradient><linearGradient id="c48b" gradientUnits="userSpaceOnUse" x1="596.0" y1="843.7" x2="595.5" y2="851.0"><stop offset="0" stop-color="#a8d84e" stop-opacity="0.55"/><stop offset="1" stop-color="#a8d84e" stop-opacity="0"/></linearGradient><linearGradient id="c48c" gradientUnits="userSpaceOnUse" x1="596.0" y1="843.7" x2="596.4" y2="836.5"><stop offset="0" stop-color="#2f7426" stop-opacity="0.25"/><stop offset="1" stop-color="#2f7426" stop-opacity="0"/></linearGradient></defs>
<g>
<path d="M137.8 772.7C141.6 772.5 146.6 772.7 150.2 774.2C153.7 775.6 156.4 778.0 159.0 781.2C161.7 784.5 163.9 789.5 166.1 793.6C168.3 797.8 170.2 802.2 172.3 806.0C174.4 809.9 176.0 813.2 178.5 816.6C181.0 820.0 183.8 823.1 187.3 826.4C190.9 829.6 196.2 832.4 199.7 836.1C203.3 839.8 206.8 844.4 208.6 848.5C210.4 852.6 211.0 856.5 210.7 860.9C210.4 865.3 208.9 870.9 206.8 875.0C204.7 879.2 201.5 883.1 198.0 885.7C194.4 888.3 190.0 890.0 185.6 890.6C181.2 891.2 176.4 890.5 171.4 889.2C166.4 887.9 160.5 885.7 155.5 883.0C150.5 880.4 145.8 877.0 141.3 873.3C136.9 869.6 132.8 865.6 128.9 860.9C125.1 856.2 121.3 850.3 118.3 845.0C115.4 839.6 112.9 834.3 111.2 829.0C109.6 823.7 108.6 818.4 108.6 813.1C108.6 807.8 109.6 802.2 111.2 797.2C112.9 792.2 115.7 786.6 118.3 783.0C121.0 779.4 123.9 777.3 127.2 775.6C130.4 773.9 134.0 773.0 137.8 772.7Z" fill="#b57b55" stroke="#9a6f4f" stroke-width="0.6"/>
<path d="M171.4 806.4C170.5 808.3 168.9 809.9 168.8 812.2C168.6 814.5 169.4 817.7 170.5 820.2C171.7 822.7 173.8 825.5 175.8 827.3C177.9 829.0 181.1 830.4 182.9 830.4C184.8 830.4 185.6 828.3 187.0 827.3C185.3 825.2 183.7 823.3 182.0 821.1C180.3 818.8 178.5 816.4 176.7 814.0C175.0 811.5 173.2 808.9 171.4 806.4Z" fill="#b2e21a"/>
<path d="M286.9 870.3C287.9 871.3 290.1 874.6 292.9 876.4C295.7 878.1 298.7 879.6 303.5 880.9C308.4 882.2 318.7 883.7 321.8 884.3" fill="none" stroke="#e2a27e" stroke-width="2.4" stroke-linecap="round"/>
<path d="M289.9 874.8C290.1 875.6 291.5 878.1 291.4 879.4C291.3 880.7 289.5 881.9 289.1 882.4" fill="none" stroke="#e2a27e" stroke-width="1.2" stroke-linecap="round"/>
<path d="M294.4 877.9C294.9 878.9 297.1 882.2 297.5 884.0C297.9 885.7 296.8 887.7 296.7 888.5" fill="none" stroke="#e2a27e" stroke-width="1.2" stroke-linecap="round"/>
<path d="M300.5 880.2C301.5 881.0 305.8 883.7 306.6 885.5C307.3 887.2 305.3 889.9 305.1 890.8" fill="none" stroke="#e2a27e" stroke-width="1.2" stroke-linecap="round"/>
<path d="M306.6 881.7C307.6 882.6 311.1 885.3 312.6 887.0C314.2 888.6 315.2 890.8 315.7 891.5" fill="none" stroke="#e2a27e" stroke-width="1.2" stroke-linecap="round"/>
<path d="M299.0 876.4C300.5 876.1 305.1 874.8 308.1 874.8C311.1 874.8 315.7 876.1 317.2 876.4" fill="none" stroke="#e2a27e" stroke-width="1.2" stroke-linecap="round"/>
<path d="M305.1 878.6C306.6 878.6 311.4 878.5 314.2 878.6C316.9 878.8 320.5 879.3 321.8 879.4" fill="none" stroke="#e2a27e" stroke-width="1.2" stroke-linecap="round"/>
<path d="M314.5 798.2C314.9 796.5 314.7 794.5 315.7 792.9C316.6 791.3 317.7 789.7 320.2 788.7C322.8 787.6 327.1 786.6 330.9 786.6C334.6 786.5 339.2 787.4 343.0 788.4C346.8 789.4 350.8 791.3 353.6 792.6C356.4 793.9 357.7 795.1 359.7 796.3C357.1 796.2 355.4 796.3 352.1 796.0C348.8 795.6 344.0 794.3 340.0 794.1C335.9 793.9 331.4 794.3 327.8 794.7C324.3 795.2 320.9 796.1 318.7 796.7C316.5 797.3 315.9 797.7 314.5 798.2Z" fill="#a9da12"/>
<path d="M278.5 836.2C279.5 832.9 279.9 829.7 281.5 826.3C283.2 822.9 286.1 818.8 288.4 815.7C290.7 812.5 293.4 810.4 295.2 807.3C297.0 804.3 298.1 801.1 299.0 797.5C299.9 793.8 300.5 789.1 300.5 785.3C300.5 781.5 299.8 777.6 299.0 774.7C298.2 771.8 296.8 769.6 295.7 767.9C294.5 766.2 293.3 765.6 292.2 764.4C294.9 764.6 297.9 764.2 300.5 764.9C303.2 765.6 305.8 766.8 308.1 768.7C310.4 770.5 312.8 773.5 314.2 776.2C315.6 779.0 316.2 782.6 316.4 785.3C316.7 788.1 316.3 790.7 315.7 792.9C315.1 795.2 314.2 796.7 312.6 799.0C311.1 801.3 308.9 804.3 306.6 806.6C304.3 808.9 301.3 810.9 299.0 812.6C296.7 814.4 294.6 815.4 292.9 817.2C291.3 819.0 289.9 821.2 289.1 823.3C288.4 825.3 288.2 827.1 288.4 829.3C288.5 831.6 289.4 834.4 289.9 836.9C286.1 836.7 282.3 836.4 278.5 836.2Z" fill="url(#spG)"/>
<ellipse cx="296.0" cy="852.1" rx="12.6" ry="14" fill="#3b2316"/>
<path d="M293.7 837.7C295.5 838.2 297.6 838.2 299.0 839.2C300.4 840.2 301.7 842.2 302.3 843.7C303.0 845.3 302.6 846.8 302.8 848.3C301.8 847.0 300.8 845.8 299.8 844.5C298.7 843.2 297.7 841.9 296.7 840.7C295.7 839.6 294.7 838.7 293.7 837.7Z" fill="#86c81c"/>
<ellipse cx="285.3" cy="853.2" rx="17.4" ry="17.2" fill="url(#sdG)"/>
<path d="M293.7 837.7C295.5 838.2 297.6 838.2 299.0 839.2C300.4 840.2 301.7 842.2 302.3 843.7C303.0 845.3 302.6 846.8 302.8 848.3C301.8 847.0 300.8 845.8 299.8 844.5C298.7 843.2 297.7 841.9 296.7 840.7C295.7 839.6 294.7 838.7 293.7 837.7Z" fill="#86c81c"/>
<path d="M415.6 885.5C417.5 883.7 419.3 882.1 421.2 880.2C423.2 878.3 425.0 875.9 427.3 874.1C429.6 872.3 432.2 870.7 434.9 869.5C437.5 868.4 441.5 868.5 443.2 867.3C445.0 866.0 444.1 863.3 445.5 862.0C446.9 860.6 449.6 859.9 451.6 858.9C453.6 857.9 455.4 856.5 457.6 855.9C459.9 855.3 463.0 854.5 465.2 855.1C467.5 855.8 469.5 858.3 471.3 859.7C473.1 861.1 474.3 862.2 475.9 863.5C477.4 864.7 478.4 866.1 480.4 867.3C482.4 868.4 485.7 868.9 488.0 870.3C490.3 871.7 492.3 874.2 494.1 875.6C495.8 877.0 496.8 877.9 498.6 878.6C500.4 879.4 502.8 878.8 504.7 880.2C506.6 881.5 508.2 884.7 510.0 887.0C506.7 887.9 503.8 889.4 500.1 889.7C496.5 890.0 492.0 888.6 488.0 888.8C483.9 889.0 479.9 890.7 475.9 890.8C471.8 890.9 467.8 889.3 463.7 889.3C459.7 889.3 455.6 890.8 451.6 890.8C447.5 890.8 443.5 889.3 439.4 889.3C435.4 889.3 430.7 890.9 427.3 890.8C423.9 890.7 420.9 889.4 419.0 888.5C417.0 887.6 416.7 886.5 415.6 885.5Z" fill="#b57b55"/>
<ellipse cx="460.7" cy="865.4" rx="7.4" ry="5" fill="#74441e"/>
<path d="M460.1 790.7 L461.3 790.7 L463.0 865.0 L458.4 865.0Z" fill="url(#lgS)"/>
<path d="M417.9 775.5C421.5 774.0 424.7 771.6 428.8 770.9C432.9 770.3 438.6 770.3 442.5 771.7C446.4 773.1 449.9 776.6 452.3 779.3C454.8 781.9 456.3 785.4 457.3 787.6C458.4 789.8 458.4 791.0 458.9 792.6C457.7 793.7 457.1 795.2 455.4 796.0C453.7 796.8 451.7 797.9 448.5 797.5C445.4 797.1 440.2 795.7 436.4 793.7C432.6 791.7 428.9 788.4 425.8 785.3C422.7 782.3 420.5 778.8 417.9 775.5Z" fill="url(#c31a)"/><path d="M458.9 792.6C457.7 793.7 457.1 795.2 455.4 796.0C453.7 796.8 451.7 797.9 448.5 797.5C445.4 797.1 440.2 795.7 436.4 793.7C432.6 791.7 428.9 788.4 425.8 785.3C422.7 782.3 420.5 778.8 417.9 775.5Z" fill="url(#c31b)"/><path d="M417.9 775.5C421.5 774.0 424.7 771.6 428.8 770.9C432.9 770.3 438.6 770.3 442.5 771.7C446.4 773.1 449.9 776.6 452.3 779.3C454.8 781.9 456.3 785.4 457.3 787.6C458.4 789.8 458.4 791.0 458.9 792.6Z" fill="url(#c31c)"/>
<path d="M463.0 790.2C464.2 786.8 464.3 783.2 466.8 780.0C469.2 776.8 473.3 773.2 477.4 770.9C481.4 768.7 487.0 767.3 491.0 766.4C495.0 765.4 497.9 765.7 501.3 765.3C499.9 770.2 499.6 775.8 497.1 780.0C494.6 784.3 490.5 788.5 486.5 790.7C482.4 792.8 476.7 793.0 472.8 792.9C468.9 792.9 466.2 791.1 463.0 790.2Z" fill="url(#c32a)"/><path d="M463.0 790.2C464.2 786.8 464.3 783.2 466.8 780.0C469.2 776.8 473.3 773.2 477.4 770.9C481.4 768.7 487.0 767.3 491.0 766.4C495.0 765.4 497.9 765.7 501.3 765.3Z" fill="url(#c32b)"/><path d="M501.3 765.3C499.9 770.2 499.6 775.8 497.1 780.0C494.6 784.3 490.5 788.5 486.5 790.7C482.4 792.8 476.7 793.0 472.8 792.9C468.9 792.9 466.2 791.1 463.0 790.2Z" fill="url(#c32c)"/>
<path d="M577.6 892.3C579.4 890.5 580.8 888.8 582.9 887.0C585.1 885.2 588.1 883.1 590.5 881.7C592.9 880.3 595.6 879.9 597.3 878.6C599.1 877.4 599.2 875.2 601.1 874.1C603.0 873.0 605.9 872.4 608.7 871.8C611.5 871.2 615.5 870.1 617.8 870.6C620.1 871.1 620.3 873.4 622.4 874.8C624.4 876.3 627.4 877.9 630.0 879.4C632.5 880.9 635.3 882.7 637.5 884.0C639.8 885.2 641.6 885.6 643.6 887.0C645.6 888.4 647.7 890.5 649.7 892.3C647.1 893.0 645.4 894.0 642.1 894.3C638.8 894.5 634.0 893.6 630.0 893.8C625.9 894.0 621.9 895.3 617.8 895.3C613.8 895.4 609.7 894.3 605.7 894.3C601.6 894.3 597.3 895.3 593.5 895.3C589.8 895.4 585.6 895.1 582.9 894.6C580.3 894.1 579.4 893.1 577.6 892.3Z" fill="#b57b55"/>
<ellipse cx="612.5" cy="877.1" rx="6" ry="3.2" fill="#74441e"/>
<path d="M612.4 776.2 L613.3 776.2 L615.5 877.1 L609.5 877.1Z" fill="url(#lgS)"/>
<path d="M613.3 759.9C614.7 761.8 616.7 763.9 617.5 765.6C618.3 767.3 618.5 768.7 618.1 770.2C617.8 771.7 616.4 773.7 615.5 774.7C614.7 775.8 613.8 775.9 613.0 776.5C612.1 775.7 610.9 775.2 610.2 774.0C609.5 772.8 608.8 770.9 608.7 769.4C608.7 767.9 609.2 766.5 609.9 764.9C610.7 763.3 612.2 761.5 613.3 759.9Z" fill="url(#c43a)"/><path d="M613.0 776.5C612.1 775.7 610.9 775.2 610.2 774.0C609.5 772.8 608.8 770.9 608.7 769.4C608.7 767.9 609.2 766.5 609.9 764.9C610.7 763.3 612.2 761.5 613.3 759.9Z" fill="url(#c43b)"/><path d="M613.3 759.9C614.7 761.8 616.7 763.9 617.5 765.6C618.3 767.3 618.5 768.7 618.1 770.2C617.8 771.7 616.4 773.7 615.5 774.7C614.7 775.8 613.8 775.9 613.0 776.5Z" fill="url(#c43c)"/>
<path d="M579.9 786.1C582.9 785.1 585.7 783.3 589.0 783.1C592.3 782.8 596.6 783.2 599.6 784.6C602.6 786.0 605.4 788.9 607.2 791.4C609.0 793.9 609.4 797.0 610.5 799.8C608.9 800.5 608.0 801.9 605.7 802.0C603.4 802.2 599.9 801.9 596.6 800.5C593.3 799.1 588.7 796.1 586.0 793.7C583.2 791.3 581.9 788.6 579.9 786.1Z" fill="url(#c44a)"/><path d="M610.5 799.8C608.9 800.5 608.0 801.9 605.7 802.0C603.4 802.2 599.9 801.9 596.6 800.5C593.3 799.1 588.7 796.1 586.0 793.7C583.2 791.3 581.9 788.6 579.9 786.1Z" fill="url(#c44b)"/><path d="M579.9 786.1C582.9 785.1 585.7 783.3 589.0 783.1C592.3 782.8 596.6 783.2 599.6 784.6C602.6 786.0 605.4 788.9 607.2 791.4C609.0 793.9 609.4 797.0 610.5 799.8Z" fill="url(#c44c)"/>
<path d="M614.8 804.3C615.8 802.0 615.8 799.2 617.8 797.5C619.8 795.7 624.1 794.4 626.9 793.7C629.7 793.0 632.0 793.4 634.5 793.2C634.0 794.9 633.9 796.5 633.0 798.2C632.1 800.0 631.2 802.2 629.2 803.5C627.2 804.9 623.3 806.5 620.9 806.6C618.5 806.7 616.8 805.1 614.8 804.3Z" fill="url(#c45a)"/><path d="M614.8 804.3C615.8 802.0 615.8 799.2 617.8 797.5C619.8 795.7 624.1 794.4 626.9 793.7C629.7 793.0 632.0 793.4 634.5 793.2Z" fill="url(#c45b)"/><path d="M634.5 793.2C634.0 794.9 633.9 796.5 633.0 798.2C632.1 800.0 631.2 802.2 629.2 803.5C627.2 804.9 623.3 806.5 620.9 806.6C618.5 806.7 616.8 805.1 614.8 804.3Z" fill="url(#c45c)"/>
<path d="M562.0 812.6C565.4 810.4 568.3 807.3 572.3 805.8C576.3 804.3 581.7 803.3 586.0 803.5C590.3 803.8 594.8 805.4 598.1 807.3C601.4 809.2 603.9 812.4 605.7 814.9C607.5 817.5 607.9 820.0 609.0 822.5C608.2 823.8 608.0 825.2 606.4 826.3C604.9 827.4 602.8 829.0 599.6 829.3C596.5 829.7 591.8 829.8 587.5 828.6C583.2 827.3 578.1 824.4 573.8 821.8C569.6 819.1 565.9 815.7 562.0 812.6Z" fill="url(#c46a)"/><path d="M609.0 822.5C608.2 823.8 608.0 825.2 606.4 826.3C604.9 827.4 602.8 829.0 599.6 829.3C596.5 829.7 591.8 829.8 587.5 828.6C583.2 827.3 578.1 824.4 573.8 821.8C569.6 819.1 565.9 815.7 562.0 812.6Z" fill="url(#c46b)"/><path d="M562.0 812.6C565.4 810.4 568.3 807.3 572.3 805.8C576.3 804.3 581.7 803.3 586.0 803.5C590.3 803.8 594.8 805.4 598.1 807.3C601.4 809.2 603.9 812.4 605.7 814.9C607.5 817.5 607.9 820.0 609.0 822.5Z" fill="url(#c46c)"/>
<path d="M615.5 838.4C616.0 834.9 615.4 831.4 617.1 827.8C618.7 824.3 621.7 820.2 625.4 817.2C629.1 814.2 634.5 811.4 639.1 809.6C643.7 807.8 648.4 807.4 653.0 806.3C652.4 811.4 653.0 816.8 651.2 821.8C649.4 826.7 646.1 833.0 642.1 836.2C638.0 839.3 631.3 840.3 626.9 840.7C622.5 841.1 619.3 839.2 615.5 838.4Z" fill="url(#c47a)"/><path d="M615.5 838.4C616.0 834.9 615.4 831.4 617.1 827.8C618.7 824.3 621.7 820.2 625.4 817.2C629.1 814.2 634.5 811.4 639.1 809.6C643.7 807.8 648.4 807.4 653.0 806.3Z" fill="url(#c47b)"/><path d="M653.0 806.3C652.4 811.4 653.0 816.8 651.2 821.8C649.4 826.7 646.1 833.0 642.1 836.2C638.0 839.3 631.3 840.3 626.9 840.7C622.5 841.1 619.3 839.2 615.5 838.4Z" fill="url(#c47c)"/>
<path d="M583.2 843.0C585.4 841.4 587.3 839.2 589.8 838.1C592.2 837.1 595.4 836.3 598.1 836.6C600.8 836.9 603.9 838.6 605.7 840.0C607.5 841.3 607.7 843.0 608.7 844.5C608.0 845.6 608.0 846.9 606.4 847.8C604.9 848.8 602.3 850.3 599.6 850.3C597.0 850.2 593.2 848.8 590.5 847.5C587.8 846.3 585.7 844.5 583.2 843.0Z" fill="url(#c48a)"/><path d="M608.7 844.5C608.0 845.6 608.0 846.9 606.4 847.8C604.9 848.8 602.3 850.3 599.6 850.3C597.0 850.2 593.2 848.8 590.5 847.5C587.8 846.3 585.7 844.5 583.2 843.0Z" fill="url(#c48b)"/><path d="M583.2 843.0C585.4 841.4 587.3 839.2 589.8 838.1C592.2 837.1 595.4 836.3 598.1 836.6C600.8 836.9 603.9 838.6 605.7 840.0C607.5 841.3 607.7 843.0 608.7 844.5Z" fill="url(#c48c)"/>
</g><!--C1-->

<text class="cal" x="94.8" y="973.9" font-size="13.2" textLength="107.3" lengthAdjust="spacingAndGlyphs">www.Planetspin.in</text>
</svg>
</body>
</html>
